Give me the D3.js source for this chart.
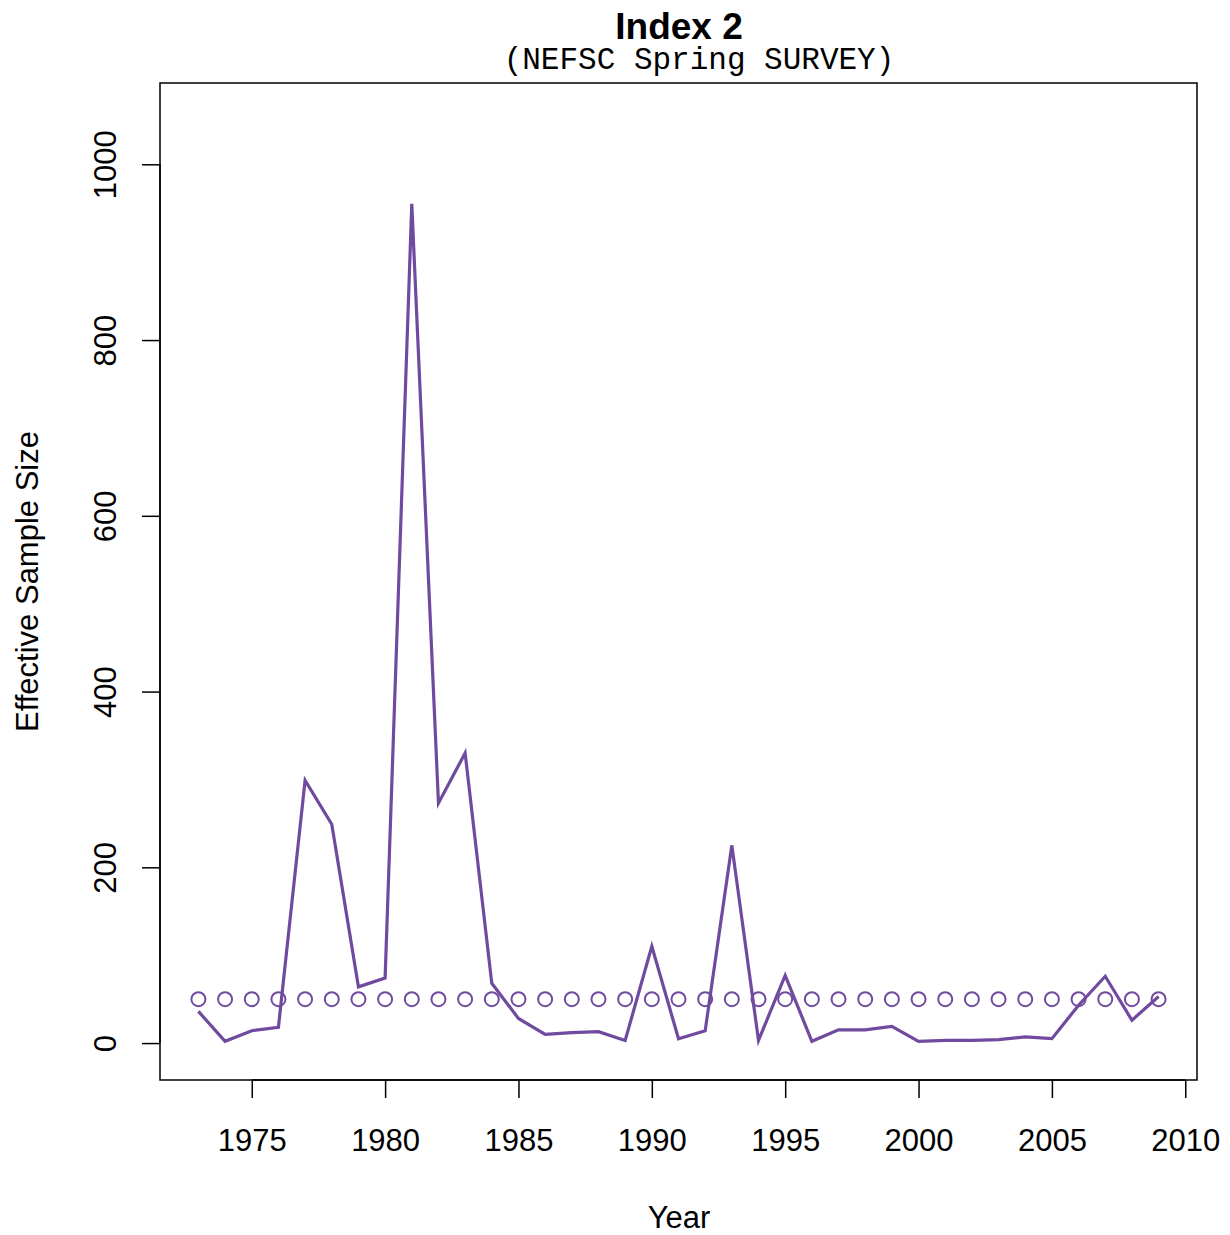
<!DOCTYPE html>
<html>
<head>
<meta charset="utf-8">
<script src="https://cdn.jsdelivr.net/npm/d3@7"></script>
<style>
  html, body { margin: 0; padding: 0; background: #fff; }
  svg { display: block; }
</style>
</head>
<body>
<script>
// Effective sample size by year for the NEFSC spring survey index
const years = d3.range(1973, 2010);
const effectiveN = [36, 2, 14, 18, 299, 249, 64, 74, 955, 273, 330, 68, 28, 10,
                    12, 13, 3, 110, 5, 14, 225, 3, 77, 2, 15, 15, 19,
                    2, 3, 3, 4, 7, 5, 43, 76, 26, 53];
const inputN = years.map(() => 50);
const xTicks = [1975, 1980, 1985, 1990, 1995, 2000, 2005, 2010];
const yTicks = [0, 200, 400, 600, 800, 1000];

const W = 1230, H = 1235;
const box = { left: 160, right: 1197, top: 83, bottom: 1080 };
const col = "#6f4a9f";
const sans = "'Liberation Sans', Arial, Helvetica, sans-serif";
const fs = 31;

const svg = d3.select("body").append("svg").attr("width", W).attr("height", H);

// R-style axis ranges: 4% padding around the data extent
const xr = [years[0], years[years.length - 1]];
const xp = (xr[1] - xr[0]) * 0.04;
const x = d3.scaleLinear().domain([xr[0] - xp, xr[1] + xp]).range([box.left, box.right]);
const yTop = 1.1 * d3.max(effectiveN);
const yp = yTop * 0.04;
const y = d3.scaleLinear().domain([-yp, yTop + yp]).range([box.bottom, box.top]);

// input sample size as open circles
svg.append("g").selectAll("circle").data(years).join("circle")
  .attr("cx", d => x(d)).attr("cy", (d, i) => y(inputN[i]))
  .attr("r", 7).attr("fill", "none").attr("stroke", col).attr("stroke-width", 2);

// effective sample size line
svg.append("path")
  .datum(years.map((d, i) => [d, effectiveN[i]]))
  .attr("d", d3.line().x(d => x(d[0])).y(d => y(d[1])))
  .attr("fill", "none").attr("stroke", col).attr("stroke-width", 3.2)
  .attr("stroke-linejoin", "miter").attr("stroke-linecap", "butt");

// plot frame
svg.append("rect")
  .attr("x", box.left).attr("y", box.top)
  .attr("width", box.right - box.left).attr("height", box.bottom - box.top)
  .attr("fill", "none").attr("stroke", "#000").attr("stroke-width", 1.5);

// x axis
const xAxis = d3.axisBottom(x).tickValues(xTicks).tickFormat(d3.format("d")).tickSize(18).tickPadding(0).tickSizeOuter(0);
const gx = svg.append("g").attr("transform", `translate(0,${box.bottom})`).call(xAxis);
gx.select(".domain").attr("d", `M${x(xTicks[0])},0H${x(xTicks[xTicks.length - 1])}`).attr("stroke-width", 1.5);
gx.selectAll(".tick line").attr("stroke-width", 1.5);
gx.selectAll("text").attr("font-family", sans).attr("font-size", fs).attr("fill", "#000")
  .attr("y", 71).attr("dy", null);

// y axis with rotated labels
const yAxis = d3.axisLeft(y).tickValues(yTicks).tickSize(18).tickSizeOuter(0).tickFormat(d3.format("d"));
const gy = svg.append("g").attr("transform", `translate(${box.left},0)`).call(yAxis);
gy.select(".domain").attr("d", `M0,${y(yTicks[0])}V${y(yTicks[yTicks.length - 1])}`).attr("stroke-width", 1.5);
gy.selectAll(".tick line").attr("stroke-width", 1.5);
gy.selectAll("text")
  .attr("font-family", sans).attr("font-size", fs).attr("fill", "#000")
  .attr("x", null).attr("dy", null)
  .attr("text-anchor", "middle")
  .attr("transform", "translate(-44,0) rotate(-90)");

// titles
svg.append("text").attr("x", 679).attr("y", 39).attr("text-anchor", "middle")
  .attr("font-family", sans).attr("font-weight", "bold").attr("font-size", 37).text("Index 2");
svg.append("text").attr("x", 699).attr("y", 69).attr("text-anchor", "middle")
  .attr("font-family", "'Liberation Mono', 'Courier New', monospace").attr("font-size", 31)
  .text("(NEFSC Spring SURVEY)");
svg.append("text").attr("x", 679).attr("y", 1228).attr("text-anchor", "middle")
  .attr("font-family", sans).attr("font-size", fs).text("Year");
svg.append("text").attr("transform", `translate(38,${(box.top + box.bottom) / 2}) rotate(-90)`)
  .attr("text-anchor", "middle")
  .attr("font-family", sans).attr("font-size", fs).text("Effective Sample Size");
</script>
</body>
</html>
